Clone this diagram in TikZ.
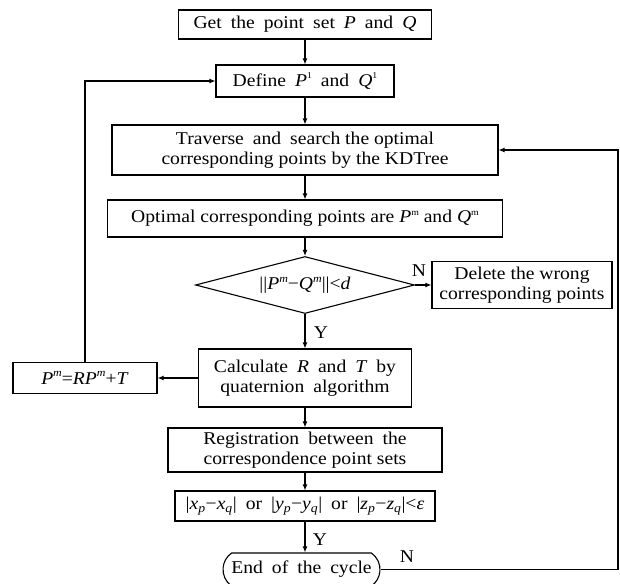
\documentclass[tikz,border=0pt]{standalone}
\usepackage{fontspec}
\setmainfont{Liberation Serif}[FakeStretch=1.09]
\usetikzlibrary{arrows.meta,shapes.geometric,shapes.misc}
\newcommand{\nfont}{\fontsize{18}{20}\selectfont}
\newcommand{\wfont}{\fontsize{18}{20}\selectfont\spaceskip=0.5em plus 0.1em\relax}
\newcommand{\wsp}{\hspace{0.5em}}
\newcommand{\tup}[1]{\raisebox{0.42em}{\fontsize{9}{9}\selectfont #1}}
\newcommand{\mup}[1]{\raisebox{0.40em}{\fontsize{11}{11}\selectfont\itshape #1}}
\begin{document}
\begin{tikzpicture}[x=1pt,y=-1pt,
  box/.style={draw, line width=1.1pt, inner sep=0pt, align=center, font=\nfont},
  wbox/.style={box, font=\wfont},
  arr/.style={line width=1.1pt, -{Latex[length=6pt,width=5pt]}},
  lbl/.style={font=\nfont, inner sep=0pt}]
\useasboundingbox (0,0) rectangle (620,583);
\fill[white] (0,0) rectangle (620,583);
\node[wbox, minimum width=253pt, minimum height=29pt] (get) at (305,24.5) {Get the point set \textit{P} and \textit{Q}};
\node[wbox, minimum width=178pt, minimum height=32pt] (def) at (305,81) {Define \textit{P}\tup{1} and \textit{Q}\tup{1}};
\node[box, minimum width=386pt, minimum height=50pt] (trav) at (305,150) {Traverse\wsp and\wsp search the optimal\\corresponding points by the KDTree};
\node[box, minimum width=395pt, minimum height=37pt] (opt) at (305,218.5) {Optimal corresponding points are \textit{P}\tup{m} and \textit{Q}\tup{m}};
\node[box, diamond, shape aspect=3.84, minimum width=219pt, minimum height=57pt] (dia) at (305,285) {||\textit{P}\mup{m}−\textit{Q}\mup{m}||<\textit{d}};
\node[box, minimum width=180pt, minimum height=47pt] (del) at (522,285) {Delete the wrong\\corresponding points};
\node[wbox, minimum width=213pt, minimum height=58pt] (calc) at (305,378) {Calculate \textit{R} and \textit{T} by\\quaternion algorithm};
\node[box, minimum width=144pt, minimum height=31pt] (pm) at (85,378) {\textit{P}\mup{m}=\textit{RP}\mup{m}+\textit{T}};
\node[box, minimum width=274pt, minimum height=44pt] (reg) at (305,450) {Registration\wsp between\wsp the\\correspondence point sets};
\node[wbox, minimum width=260pt, minimum height=30pt] (cond) at (305,506) {|\textit{x}\textsubscript{\textit{p}}−\textit{x}\textsubscript{\textit{q}}| or |\textit{y}\textsubscript{\textit{p}}−\textit{y}\textsubscript{\textit{q}}| or |\textit{z}\textsubscript{\textit{p}}−\textit{z}\textsubscript{\textit{q}}|<\textit{ε}};
\node[wbox, rounded rectangle, rounded rectangle arc length=110, minimum width=157pt, minimum height=33pt] (end) at (301.5,569.5) {End of the cycle};
\node[lbl] (n1) at (419,271) {N};
\node[lbl] (y1) at (321,333) {Y};
\node[lbl] (y2) at (320,540) {Y};
\node[lbl] (n2) at (407,557) {N};
\draw[arr] (get.south) -- (def.north);
\draw[arr] (def.south) -- (trav.north);
\draw[arr] (trav.south) -- (opt.north);
\draw[arr] (opt.south) -- (dia.north);
\draw[arr] (dia.south) -- (calc.north);
\draw[arr] (calc.south) -- (reg.north);
\draw[arr] (reg.south) -- (cond.north);
\draw[arr] (cond.south) -- (cond.south |- end.north);
\draw[arr] (dia.east) -- (del.west);
\draw[arr] (calc.west) -- (pm.east);
\draw[arr] (pm.north) |- (def.west);
\coordinate (rc) at (618,150);
\draw[arr] (end.east) -| (rc) -- (trav.east);
\end{tikzpicture}
\end{document}
